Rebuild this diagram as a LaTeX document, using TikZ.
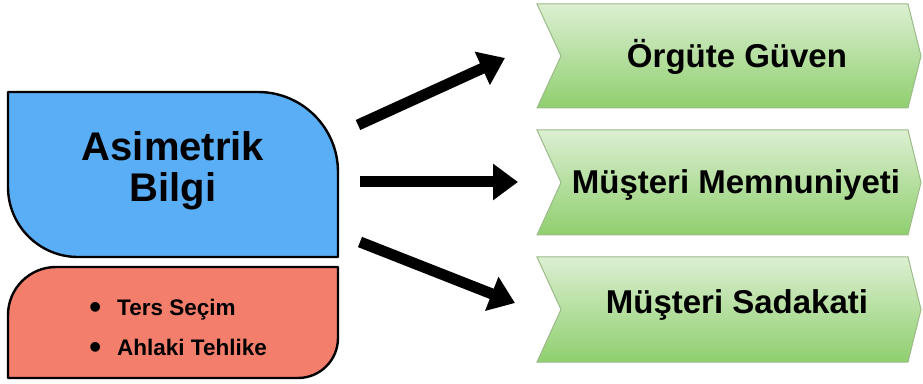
\documentclass[tikz,border=0pt]{standalone}
\usepackage{fontspec}
\setmainfont{Liberation Sans}
\usetikzlibrary{arrows.meta}
\definecolor{infoblue}{HTML}{5AAEF5}
\definecolor{riskred}{HTML}{F27E6B}
\definecolor{greentop}{HTML}{DCEFD2}
\definecolor{greenbot}{HTML}{8FCF6E}
\definecolor{greenline}{HTML}{9DBB8A}
\tikzset{
  panel/.style={draw=black, line width=2.4pt, line join=round},
  chevron/.style={draw=greenline, line width=1pt, top color=greentop, bottom color=greenbot},
  outcome/.style={font=\fontsize{33}{38}\selectfont\bfseries, inner sep=0pt},
  bigarrow/.style={line width=11pt, -{Triangle[width=35pt,length=25pt]}},
  bulleted/.style={font=\fontsize{22.5}{26}\selectfont\bfseries, anchor=base west, inner sep=0pt}
}
\newcommand{\chevronat}[2]{% top and bottom edge
  \path[chevron] (537,#1) -- (908,#1) -- (921,{(#1+#2)/2}) -- (908,#2) -- (537,#2) -- (561,{(#1+#2)/2}) -- cycle;}
\newcommand{\bigbullet}{\llap{\raisebox{-3.5pt}{\scalebox{1.5}{\textbullet}}\hspace{16pt}}}
\begin{document}
\begin{tikzpicture}[x=1pt,y=1pt]
\useasboundingbox (0,0) rectangle (923,383);
\fill[white] (0,0) rectangle (923,383);

% upper panel
\path[panel, fill=infoblue] (8,291) -- (258,291) arc[start angle=90,end angle=0,radius=80]
  -- (338,126) -- (78,126) arc[start angle=270,end angle=180,radius=70] -- cycle;
\node[font=\fontsize{40}{41}\selectfont\bfseries, align=center] (info) at (173,212) {Asimetrik\\Bilgi};

% lower panel
\path[panel, fill=riskred] (8,5) -- (8,68) arc[start angle=180,end angle=90,radius=48]
  -- (338,116) -- (338,45) arc[start angle=0,end angle=-90,radius=40] -- cycle;
\node[bulleted] (ters) at (117,68) {\bigbullet Ters Seçim};
\node[bulleted] (ahlak) at (117,28) {\bigbullet Ahlaki Tehlike};

% outcome chevrons
\chevronat{379}{275}
\chevronat{253}{148}
\chevronat{126}{21}
\node[outcome] (trust) at (737,326) {Örgüte Güven};
\node[outcome] (satis) at (736,198) {Müşteri Memnuniyeti};
\node[outcome] (loyal) at (737,78) {Müşteri Sadakati};

% arrows
\coordinate (s1) at (358,258);
\coordinate (e1) at (505,325);
\coordinate (s2) at (360,201);
\coordinate (e2) at (518,201);
\coordinate (s3) at (360,141);
\coordinate (e3) at (515,80);
\draw[bigarrow] (s1) -- (e1);
\draw[bigarrow] (s2) -- (e2);
\draw[bigarrow] (s3) -- (e3);
\end{tikzpicture}
\end{document}
